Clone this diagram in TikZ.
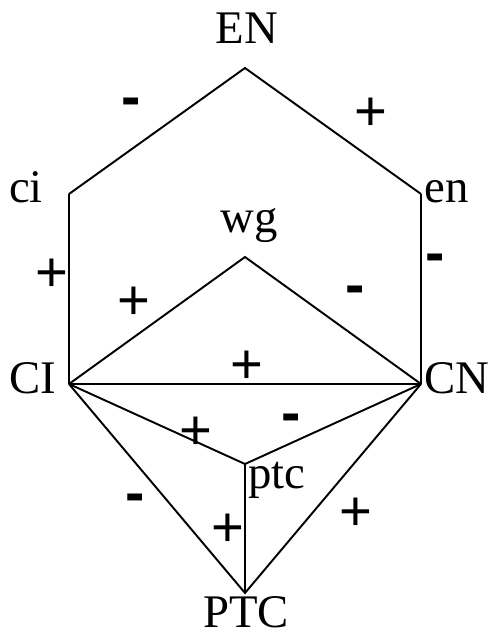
\documentclass[tikz,border=0pt]{standalone}
\usepackage{fontspec}
\setmainfont{Liberation Serif}
\setsansfont{Liberation Sans}
\usetikzlibrary{positioning}

\begin{document}
\begin{tikzpicture}[
  link/.style={line width=1.1pt,line join=miter},
  tag/.style={anchor=base,inner sep=0pt,font=\fontsize{26.6}{30}\selectfont},
  sgn/.style={anchor=center,inner sep=0pt,font=\sffamily\fontsize{32}{36}\selectfont},
  neg/.style={anchor=center,inner sep=0pt,font=\sffamily\bfseries\fontsize{33}{36}\selectfont}]
  \useasboundingbox (0,0) rectangle (9.82,-12.68);
  % junction points
  \coordinate (EN) at (4.90,-1.36);
  \coordinate (ci) at (1.38,-3.88);
  \coordinate (en) at (8.42,-3.88);
  \coordinate (wg) at (4.90,-5.14);
  \coordinate (CI) at (1.38,-7.68);
  \coordinate (CN) at (8.42,-7.68);
  \coordinate (ptc) at (4.90,-9.28);
  \coordinate (PTC) at (4.90,-11.86);
  % names
  \node[tag] (ENtag) at (4.94,-0.88) {EN};
  \node[tag] (citag) at (0.52,-4.06) {ci};
  \node[tag] (entag) at (8.94,-4.06) {en};
  \node[tag] (wgtag) at (4.98,-4.66) {wg};
  \node[tag] (CItag) at (0.66,-7.86) {CI};
  \node[tag] (CNtag) at (9.14,-7.86) {CN};
  \node[tag] (ptctag) at (5.54,-9.76) {ptc};
  \node[tag] (PTCtag) at (4.92,-12.54) {PTC};
  % edges
  \draw[link] (ci) -- (EN) -- (en);
  \draw[link] (ci) -- (CI);
  \draw[link] (en) -- (CN);
  \draw[link] (CI) -- (wg) -- (CN);
  \draw[link] (CI) -- (CN);
  \draw[link] (CI) -- (ptc) -- (CN);
  \draw[link] (CI) -- (PTC) -- (CN);
  \draw[link] (ptc) -- (PTC);
  % signs
  \foreach \nm/\x/\y in {p1/7.42/-2.28, p2/1.04/-5.50, p3/2.68/-6.06,
      p4/4.94/-7.34, p5/3.92/-8.66, p6/4.56/-10.60, p7/7.12/-10.28}
    \node[sgn] (\nm) at (\x,\y) {+};
  \foreach \nm/\x/\y in {m1/2.62/-2.14, m2/8.70/-5.26, m3/7.10/-5.90,
      m4/5.82/-8.46, m5/2.70/-10.06}
    \node[neg] (\nm) at (\x,\y) {-};
\end{tikzpicture}
\end{document}
